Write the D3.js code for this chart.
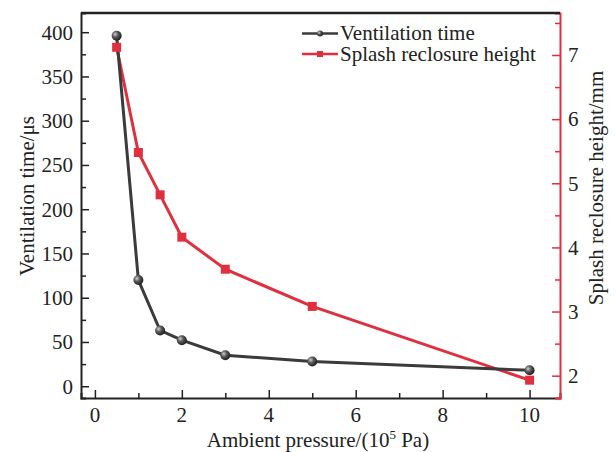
<!DOCTYPE html>
<html>
<head>
<meta charset="utf-8">
<script src="https://cdn.jsdelivr.net/npm/d3@7"></script>
<style>
body { margin: 0; background: #fff; }
text { font-family: "Liberation Serif", "Times New Roman", serif; fill: #222; }
</style>
</head>
<body>
<div id="viz"></div>
<script>
var width = 616, height = 452;

// data
var pressure = [0.5, 1, 1.5, 2, 3, 5, 10];
var ventTime = [396, 120, 63, 52, 35, 28, 18];
var reclosure = [7.12, 5.48, 4.82, 4.16, 3.66, 3.08, 1.93];
var xTicks = [0, 2, 4, 6, 8, 10];
var yLeftTicks = [0, 50, 100, 150, 200, 250, 300, 350, 400];
var yRightTicks = [2, 3, 4, 5, 6, 7];

var plotL = 81, plotR = 560, plotT = 13, plotB = 398;
var black = "#3b3b3b", red = "#e0303f";
var fs = "21px";

var svg = d3.select("#viz").append("svg")
	.attr("width", width)
	.attr("height", height);

var defs = svg.append("defs");
var grad = defs.append("radialGradient").attr("id", "ball")
	.attr("cx", "35%").attr("cy", "35%").attr("r", "65%");
grad.append("stop").attr("offset", "0%").attr("stop-color", "#cfcfcf");
grad.append("stop").attr("offset", "45%").attr("stop-color", "#5a5a5a");
grad.append("stop").attr("offset", "100%").attr("stop-color", "#222");

var x = d3.scaleLinear().domain([-0.32, 10.7]).range([plotL, plotR]);
var yL = d3.scaleLinear().domain([-13.3, 421.7]).range([plotB, plotT]);
var yR = d3.scaleLinear().domain([1.652, 7.655]).range([plotB, plotT]);

// axes with inward ticks
var gx = svg.append("g").attr("transform", "translate(0," + plotB + ")");
gx.call(d3.axisTop(x).tickValues(d3.range(0, 11, 1)).tickSize(5).tickFormat(""));
gx.selectAll(".tick line").attr("y2", function (d) { return d % 2 === 0 ? -8 : -5; });
svg.append("g").selectAll("text").data(xTicks).enter().append("text")
	.attr("x", function (d) { return x(d); })
	.attr("y", plotB + 24)
	.attr("text-anchor", "middle")
	.style("font-size", fs)
	.text(function (d) { return d; });

var gl = svg.append("g").attr("transform", "translate(" + plotL + ",0)");
gl.call(d3.axisRight(yL).tickValues(d3.range(0, 401, 25)).tickSize(5).tickFormat(""));
gl.selectAll(".tick line").attr("x2", function (d) { return d % 50 === 0 ? 8 : 5; });
svg.append("g").selectAll("text").data(yLeftTicks).enter().append("text")
	.attr("x", plotL - 8)
	.attr("y", function (d) { return yL(d); })
	.attr("dy", "0.35em")
	.attr("text-anchor", "end")
	.style("font-size", fs)
	.text(function (d) { return d; });

var gr = svg.append("g").attr("transform", "translate(" + plotR + ",0)");
gr.call(d3.axisLeft(yR).tickValues(d3.range(2, 7.6, 0.5)).tickSize(5).tickFormat(""));
gr.selectAll(".tick line").attr("x2", function (d) { return d % 1 === 0 ? -8 : -5; });
svg.append("g").selectAll("text").data(yRightTicks).enter().append("text")
	.attr("x", plotR + 8)
	.attr("y", function (d) { return yR(d); })
	.attr("dy", "0.35em")
	.style("font-size", fs)
	.text(function (d) { return d; });

[gx, gl].forEach(function (g) {
	g.selectAll("path.domain").attr("stroke", "#222").attr("stroke-width", 2);
	g.selectAll(".tick line").attr("stroke", "#222").attr("stroke-width", 1.5);
});
gr.selectAll("path.domain").attr("stroke", red).attr("stroke-width", 2);
gr.selectAll(".tick line").attr("stroke", red).attr("stroke-width", 1.5);

// top frame line
svg.append("line")
	.attr("x1", plotL).attr("x2", plotR)
	.attr("y1", plotT).attr("y2", plotT)
	.attr("stroke", "#222").attr("stroke-width", 2.5);

// axis titles
svg.append("text")
	.attr("transform", "translate(34,196) rotate(-90)")
	.attr("text-anchor", "middle")
	.style("font-size", fs)
	.text("Ventilation time/μs");
svg.append("text")
	.attr("transform", "translate(603,188) rotate(-90)")
	.attr("text-anchor", "middle")
	.style("font-size", fs)
	.text("Splash reclosure height/mm");
var xt = svg.append("text")
	.attr("x", 318)
	.attr("y", 447)
	.attr("text-anchor", "middle")
	.style("font-size", fs);
xt.append("tspan").text("Ambient pressure/(10");
xt.append("tspan").attr("dy", -8).style("font-size", "13px").text("5");
xt.append("tspan").attr("dy", 8).text(" Pa)");

// series
var ventData = pressure.map(function (p, i) { return [p, ventTime[i]]; });
var recData = pressure.map(function (p, i) { return [p, reclosure[i]]; });

svg.append("path").datum(recData)
	.attr("fill", "none").attr("stroke", red).attr("stroke-width", 3)
	.attr("d", d3.line().x(function (d) { return x(d[0]); }).y(function (d) { return yR(d[1]); }));
svg.append("path").datum(ventData)
	.attr("fill", "none").attr("stroke", black).attr("stroke-width", 3)
	.attr("d", d3.line().x(function (d) { return x(d[0]); }).y(function (d) { return yL(d[1]); }));

svg.selectAll("circle.vent").data(ventData).enter().append("circle")
	.attr("class", "vent")
	.attr("cx", function (d) { return x(d[0]); })
	.attr("cy", function (d) { return yL(d[1]); })
	.attr("r", 5)
	.attr("fill", "url(#ball)");
svg.selectAll("rect.rec").data(recData).enter().append("rect")
	.attr("class", "rec")
	.attr("x", function (d) { return x(d[0]) - 4.5; })
	.attr("y", function (d) { return yR(d[1]) - 4.5; })
	.attr("width", 9).attr("height", 9)
	.attr("fill", red);

// legend
var legend = [
	{ name: "Ventilation time", color: black, y: 33.5, mark: "circle" },
	{ name: "Splash reclosure height", color: red, y: 54, mark: "rect" }
];
legend.forEach(function (l) {
	var g = svg.append("g");
	g.append("line").attr("x1", 302).attr("x2", 338)
		.attr("y1", l.y).attr("y2", l.y)
		.attr("stroke", l.color).attr("stroke-width", 2.5);
	if (l.mark === "circle") {
		g.append("circle").attr("cx", 320).attr("cy", l.y).attr("r", 3).attr("fill", "url(#ball)");
	} else {
		g.append("rect").attr("x", 317).attr("y", l.y - 3).attr("width", 6).attr("height", 6).attr("fill", l.color);
	}
	g.append("text").attr("x", 340).attr("y", l.y).attr("dy", "0.33em")
		.style("font-size", fs).text(l.name);
});
</script>
</body>
</html>
